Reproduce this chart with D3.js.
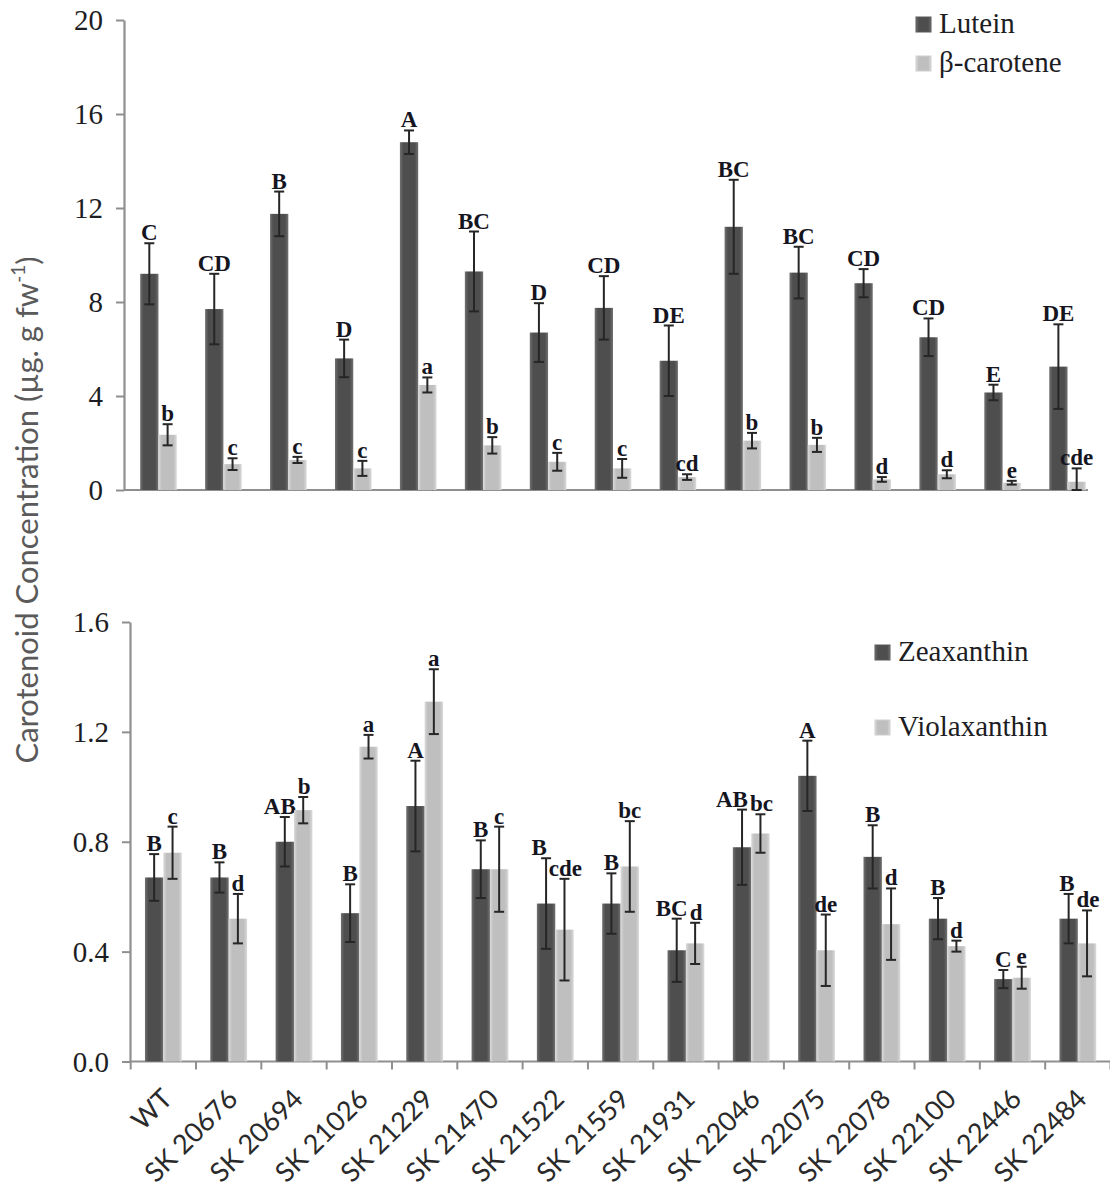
<!DOCTYPE html>
<html>
<head>
<meta charset="utf-8">
<script src="https://cdn.jsdelivr.net/npm/d3@7"></script>
<style>
  html, body { margin: 0; padding: 0; background: #fff; }
  svg { display: block; }
</style>
</head>
<body>
<svg id="chart" width="1110" height="1188"></svg>
<script>
// Genotypes along the x axis (shared by both panels)
const categories = ["WT", "SK 20676", "SK 20694", "SK 21026", "SK 21229", "SK 21470", "SK 21522",
  "SK 21559", "SK 21931", "SK 22046", "SK 22075", "SK 22078", "SK 22100", "SK 22446", "SK 22484"];

// Upper panel: lutein and beta-carotene (µg g fw-1), mean, SE and significance letters
const luteinMean = [9.2, 7.7, 11.75, 5.6, 14.8, 9.3, 6.7, 7.75, 5.5, 11.2, 9.25, 8.8, 6.5, 4.15, 5.25];
const luteinErr = [1.3, 1.5, 0.95, 0.8, 0.5, 1.7, 1.25, 1.35, 1.5, 2.0, 1.1, 0.6, 0.8, 0.33, 1.8];
const luteinLetters = ["C", "CD", "B", "D", "A", "BC", "D", "CD", "DE", "BC", "BC", "CD", "CD", "E", "DE"];

const caroteneMean = [2.35, 1.1, 1.28, 0.92, 4.47, 1.9, 1.2, 0.92, 0.55, 2.1, 1.92, 0.45, 0.67, 0.31, 0.35];
const caroteneErr = [0.45, 0.25, 0.13, 0.32, 0.32, 0.35, 0.38, 0.4, 0.12, 0.33, 0.3, 0.1, 0.17, 0.08, 0.57];
const caroteneLetters = ["b", "c", "c", "c", "a", "b", "c", "c", "cd", "b", "b", "d", "d", "e", "cde"];

// Lower panel: zeaxanthin and violaxanthin
const zeaMean = [0.67, 0.67, 0.80, 0.54, 0.93, 0.70, 0.575, 0.575, 0.405, 0.78, 1.04, 0.745, 0.52, 0.30, 0.52];
const zeaErr = [0.085, 0.055, 0.09, 0.105, 0.165, 0.105, 0.165, 0.11, 0.115, 0.137, 0.128, 0.115, 0.075, 0.033, 0.09];
const zeaLetters = ["B", "B", "AB", "B", "A", "B", "B", "B", "BC", "AB", "A", "B", "B", "C", "B"];

const violaMean = [0.76, 0.52, 0.915, 1.146, 1.31, 0.70, 0.48, 0.71, 0.43, 0.83, 0.405, 0.50, 0.42, 0.305, 0.43];
const violaErr = [0.095, 0.09, 0.048, 0.043, 0.118, 0.155, 0.185, 0.165, 0.075, 0.07, 0.13, 0.13, 0.02, 0.04, 0.12];
const violaLetters = ["c", "d", "b", "a", "a", "c", "cde", "bc", "d", "bc", "de", "d", "d", "e", "de"];

const topTicks = [0, 4, 8, 12, 16, 20];
const bottomTicks = [0, 0.4, 0.8, 1.2, 1.6];

const svg = d3.select("#chart");
svg.append("rect").attr("width", 1110).attr("height", 1188).attr("fill", "#fff");

// Bar shading: darker core with lighter edges
const defs = svg.append("defs");
function shade(id, edge, core) {
  const g = defs.append("linearGradient").attr("id", id)
    .attr("x1", "0%").attr("x2", "100%").attr("y1", "0%").attr("y2", "0%");
  g.append("stop").attr("offset", "0%").attr("stop-color", edge);
  g.append("stop").attr("offset", "18%").attr("stop-color", core);
  g.append("stop").attr("offset", "82%").attr("stop-color", core);
  g.append("stop").attr("offset", "100%").attr("stop-color", edge);
}
shade("darkFill", "#727272", "#4e4e4e");
shade("lightFill", "#dadada", "#bfbfbf");

const AXIS = "#8f8f8f";
const SERIF = "'Liberation Serif', 'Times New Roman', serif";
const SANS = "Lato, 'Open Sans', sans-serif";

function panel(opts) {
  const { x, y, yTicks, fmt, series, axisX, axisEnd, xTicks } = opts;
  const g = svg.append("g");

  // y axis
  const ya = d3.axisLeft(y).tickValues(yTicks).tickFormat(fmt).tickSize(8).tickSizeOuter(0).tickPadding(13);
  const yg = g.append("g").attr("transform", `translate(${axisX},0)`).call(ya);
  yg.select(".domain").attr("stroke", AXIS).attr("stroke-width", 2.2);
  yg.selectAll(".tick line").attr("stroke", AXIS).attr("stroke-width", 2);
  yg.selectAll(".tick text").attr("font-family", SERIF).attr("font-size", 29)
    .attr("fill", "#1d1d24").attr("dy", "0.34em");

  // x axis baseline
  g.append("line").attr("x1", axisX).attr("x2", axisEnd)
    .attr("y1", y(0)).attr("y2", y(0)).attr("stroke", AXIS).attr("stroke-width", 2.2);
  if (xTicks) {
    const edges = categories.map(c => x(c)).concat([x.range()[1]]);
    g.selectAll(".xt").data(edges).join("line")
      .attr("x1", d => d).attr("x2", d => d)
      .attr("y1", y(0)).attr("y2", y(0) + 8)
      .attr("stroke", AXIS).attr("stroke-width", 2);
  }

  const inner = d3.scaleBand(series.map(s => s.key), [0, x.bandwidth()])
    .paddingInner(0).paddingOuter(0.775);

  const letterSets = [];
  series.forEach(s => {
    const sg = g.append("g");
    const bx = c => x(c) + inner(s.key);
    const bw = inner.bandwidth();
    sg.selectAll("rect").data(categories).join("rect")
      .attr("x", c => bx(c))
      .attr("y", (c, i) => y(s.mean[i]))
      .attr("width", bw)
      .attr("height", (c, i) => y(0) - y(s.mean[i]))
      .attr("fill", `url(#${s.fill})`);
    // error bars (lower whisker stops at the axis)
    const eb = sg.selectAll(".eb").data(categories).join("g");
    eb.append("line")
      .attr("x1", c => bx(c) + bw / 2).attr("x2", c => bx(c) + bw / 2)
      .attr("y1", (c, i) => y(s.mean[i] + s.err[i]))
      .attr("y2", (c, i) => y(Math.max(0, s.mean[i] - s.err[i])))
      .attr("stroke", "#262626").attr("stroke-width", 2);
    [1, -1].forEach(sign => {
      eb.append("line")
        .attr("x1", c => bx(c) + bw / 2 - 5).attr("x2", c => bx(c) + bw / 2 + 5)
        .attr("y1", (c, i) => y(Math.max(0, s.mean[i] + sign * s.err[i])))
        .attr("y2", (c, i) => y(Math.max(0, s.mean[i] + sign * s.err[i])))
        .attr("stroke", "#262626").attr("stroke-width", 2);
    });
    // significance letters
    const lt = sg.selectAll(".lt").data(categories).join("text")
      .attr("x", c => bx(c) + bw / 2)
      .attr("y", (c, i) => y(s.mean[i] + s.err[i]) - 3)
      .attr("text-anchor", "middle")
      .attr("font-family", SERIF).attr("font-weight", "bold").attr("font-size", 23)
      .attr("fill", "#15151f")
      .text((c, i) => s.letters[i]);
    letterSets.push(lt.nodes());
  });

  // when the two letters of a group collide, nudge them apart
  const [left, right] = letterSets;
  left.forEach((a, i) => {
    const b = right[i];
    const ba = a.getBBox(), bb = b.getBBox();
    const overlapX = ba.x + ba.width - bb.x;
    const overlapY = Math.min(ba.y + ba.height, bb.y + bb.height) - Math.max(ba.y, bb.y);
    if (overlapX > 0 && overlapY > 2) {
      a.setAttribute("x", +a.getAttribute("x") - overlapX - 1);
      b.setAttribute("x", +b.getAttribute("x") + 1);
    }
  });
  return g;
}

function legend(items, lx, ys) {
  items.forEach((it, k) => {
    svg.append("rect").attr("x", lx).attr("y", ys[k] - 16).attr("width", 15).attr("height", 15)
      .attr("fill", `url(#${it.fill})`).attr("stroke", it.fill === "darkFill" ? "#5a5a5a" : "#cfcfcf");
    svg.append("text").attr("x", lx + 23).attr("y", ys[k])
      .attr("font-family", SERIF).attr("font-size", 29).attr("fill", "#1d1d24")
      .text(it.label);
  });
}

// ---- upper panel ----
const xTop = d3.scaleBand(categories, [126, 1100]);
const yTop = d3.scaleLinear([0, 20], [490, 20]);
panel({
  x: xTop, y: yTop, yTicks: topTicks, fmt: d3.format("d"), axisX: 124, axisEnd: 1088, xTicks: false,
  series: [
    { key: "lutein", mean: luteinMean, err: luteinErr, letters: luteinLetters, fill: "darkFill" },
    { key: "carotene", mean: caroteneMean, err: caroteneErr, letters: caroteneLetters, fill: "lightFill" }
  ]
});
legend([{ label: "Lutein", fill: "darkFill" }, { label: "β-carotene", fill: "lightFill" }], 916, [33, 72]);

// ---- lower panel ----
const xBot = d3.scaleBand(categories, [130.7, 1110.5]);
const yBot = d3.scaleLinear([0, 1.6], [1061.5, 622]);
panel({
  x: xBot, y: yBot, yTicks: bottomTicks, fmt: d3.format(".1f"), axisX: 130, axisEnd: 1110, xTicks: true,
  series: [
    { key: "zea", mean: zeaMean, err: zeaErr, letters: zeaLetters, fill: "darkFill" },
    { key: "viola", mean: violaMean, err: violaErr, letters: violaLetters, fill: "lightFill" }
  ]
});
legend([{ label: "Zeaxanthin", fill: "darkFill" }, { label: "Violaxanthin", fill: "lightFill" }], 875, [661, 736]);

// category labels, rotated
svg.append("g").selectAll("text").data(categories).join("text")
  .attr("transform", c => `translate(${xBot(c) + xBot.bandwidth() / 2 - 3},1087) rotate(-45)`)
  .attr("text-anchor", "end").attr("dy", "0.71em")
  .attr("font-family", SANS).attr("font-size", 27).attr("fill", "#2a2a2a")
  .text(c => c);

// shared y-axis title
const title = svg.append("text")
  .attr("transform", "translate(38,510) rotate(-90)")
  .attr("text-anchor", "middle")
  .attr("font-family", SANS).attr("font-size", 31).attr("fill", "#5a5a5a");
title.append("tspan").text("Carotenoid Concentration (µg. g fw");
title.append("tspan").attr("font-size", 19).attr("dy", "-0.7em").text("-1");
title.append("tspan").attr("dy", "0.45em").text(")");
</script>
</body>
</html>
